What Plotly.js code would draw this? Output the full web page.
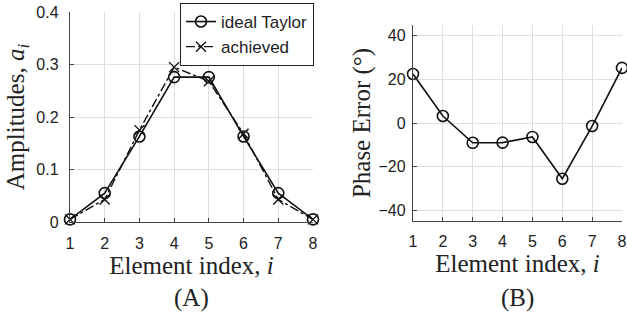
<!DOCTYPE html>
<html>
<head>
<meta charset="utf-8">
<script src="https://cdn.plot.ly/plotly-3.0.1.min.js"></script>
<style>html,body{margin:0;padding:0;background:#fff;}#chart{width:627px;height:320px;}</style>
</head>
<body>
<div id="chart"></div>
<script>
const elementIndex = [1, 2, 3, 4, 5, 6, 7, 8];
const idealTaylor = [0.005, 0.055, 0.163, 0.276, 0.276, 0.163, 0.055, 0.005];
const achieved = [0.005, 0.043, 0.175, 0.295, 0.268, 0.168, 0.043, 0.005];
const phaseError = [22.5, 3.2, -9.1, -9.0, -6.4, -25.6, -1.4, 25.3];

const W = 627, H = 320;
const px = v => v / W, py = v => 1 - v / H;

const tickFont = {family: 'Liberation Sans, Arial, sans-serif', size: 16, color: '#222'};
const titleFont = {family: 'Liberation Serif, Times New Roman, serif', size: 25, color: '#222'};

const axisCommon = {
  showline: true, linecolor: '#444', linewidth: 1.2,
  ticks: 'inside', ticklen: 4, tickcolor: '#444',
  showgrid: true, gridcolor: '#dedede', gridwidth: 1,
  zeroline: false, tickfont: tickFont, mirror: false
};

const traces = [
  {x: elementIndex, y: idealTaylor, xaxis: 'x', yaxis: 'y', name: 'ideal Taylor',
   mode: 'lines+markers', cliponaxis: false,
   line: {color: '#111', width: 1.6},
   marker: {symbol: 'circle-open', size: 11, color: '#111', line: {width: 1.6}}},
  {x: elementIndex, y: achieved, xaxis: 'x', yaxis: 'y', name: 'achieved',
   mode: 'lines+markers', cliponaxis: false,
   line: {color: '#111', width: 1.4, dash: 'dashdot'},
   marker: {symbol: 'x-thin-open', size: 10, color: '#111', line: {width: 1.4, color: '#111'}}},
  {x: elementIndex, y: phaseError, xaxis: 'x2', yaxis: 'y2', name: 'phase', showlegend: false,
   mode: 'lines+markers', cliponaxis: false,
   line: {color: '#111', width: 1.6},
   marker: {symbol: 'circle-open', size: 11, color: '#111', line: {width: 1.6}}}
];

const layout = {
  width: W, height: H,
  margin: {l: 0, r: 0, t: 0, b: 0},
  paper_bgcolor: '#fff', plot_bgcolor: '#fff',
  showlegend: true,
  legend: {x: px(314), y: py(3), xanchor: 'right', yanchor: 'top',
           bordercolor: '#222', borderwidth: 1, bgcolor: '#fff',
           font: {family: 'Liberation Sans, Arial, sans-serif', size: 17, color: '#222'},
           tracegroupgap: 0},
  xaxis: Object.assign({}, axisCommon, {
    domain: [px(70), px(313)], range: [1, 8], dtick: 1, tick0: 1, anchor: 'y',
    ticklabelstandoff: 7,
    title: {text: 'Element index, <i>i</i>', font: titleFont, standoff: 3}
  }),
  yaxis: Object.assign({}, axisCommon, {
    domain: [py(222), py(12)], range: [0, 0.4], dtick: 0.1, anchor: 'x',
    ticklabelstandoff: 7,
    title: {text: 'Amplitudes, <i>a<sub>i</sub></i>', font: titleFont, standoff: 4}
  }),
  xaxis2: Object.assign({}, axisCommon, {
    domain: [px(413), px(622)], range: [1, 8], dtick: 1, tick0: 1, anchor: 'y2',
    ticklabelstandoff: 6,
    title: {text: 'Element index, <i>i</i>', font: titleFont, standoff: 3}
  }),
  yaxis2: Object.assign({}, axisCommon, {
    domain: [py(221), py(25)], range: [-45, 45], tickvals: [-40, -20, 0, 20, 40], anchor: 'x2',
    ticklabelstandoff: 3,
    title: {text: 'Phase Error (°)', font: titleFont, standoff: 0}
  }),
  annotations: [
    {text: '(A)', xref: 'paper', yref: 'paper', x: px(191), y: py(298), showarrow: false,
     font: titleFont, xanchor: 'center', yanchor: 'middle'},
    {text: '(B)', xref: 'paper', yref: 'paper', x: px(517), y: py(298), showarrow: false,
     font: titleFont, xanchor: 'center', yanchor: 'middle'}
  ]
};

Plotly.newPlot('chart', traces, layout, {displayModeBar: false, staticPlot: true});
</script>
</body>
</html>
